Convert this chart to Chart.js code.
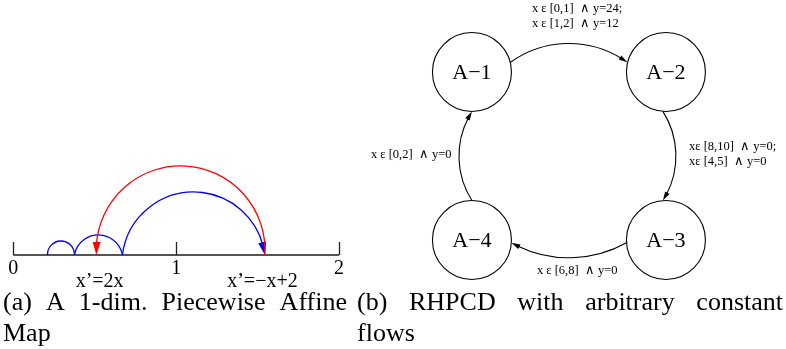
<!DOCTYPE html>
<html><head><meta charset="utf-8">
<script src="https://cdn.jsdelivr.net/npm/chart.js@4/dist/chart.umd.min.js"></script>
<style>html,body{margin:0;padding:0;background:#fff;}canvas{display:block;}</style>
</head><body>
<canvas id="c" width="786" height="349"></canvas>
<script>
// ---------- Panel (a): 1-dim. piecewise affine map ----------
const axisTicks   = [0, 1, 2];
const tickLabels  = ['0', '1', '2'];
const mapLabels   = ['x\u2019=2x', 'x\u2019=\u2212x+2'];
const mapLabelAt  = [0.53, 1.53];
const arcStart    = [0.21, 0.375, 0.67, 1.545];
const arcEnd      = [0.375, 0.67, 1.545, 0.51];
const arcHeight   = [0.086, 0.123, 0.387, 0.547];
const arcSeries   = ['orbit', 'orbit', 'orbit', 'return'];
const arcArrow    = [false, false, true, true];
const captionA    = ['(a) A 1-dim. Piecewise Affine', 'Map'];

// ---------- Panel (b): RHPCD state graph ----------
const nodeNames   = ['A\u22121', 'A\u22122', 'A\u22123', 'A\u22124'];
const nodeCol     = [0, 1, 1, 0];
const nodeRow     = [1, 1, 0, 0];
const edgeFrom    = [0, 1, 2, 3];
const edgeTo      = [1, 2, 3, 0];
const edgeLabels  = [
  ['x \u03b5 [0,1]  \u2227 y=24;', 'x \u03b5 [1,2]  \u2227 y=12'],
  ['x\u03b5 [8,10]  \u2227 y=0;', 'x\u03b5 [4,5]  \u2227 y=0'],
  ['x \u03b5 [6,8]  \u2227 y=0'],
  ['x \u03b5 [0,2]  \u2227 y=0']
];
const edgeLabelX  = [0.309, 1.119, 0.335, -0.521];
const edgeLabelY  = [1.375, 0.554, -0.185, 0.506];
const captionB    = ['(b) RHPCD with arbitrary constant', 'flows'];

// ---------- styles / geometry ----------
const seriesColor = { orbit: '#0000ff', return: '#ff0000' };
const edgeShape   = [ {theta: 14, bend: 19}, {theta: -4.4, bend: 13}, {theta: 4, bend: 15}, {theta: 0, bend: 13} ];
const NODE_R = 39.5;
const SERIF = '"Liberation Serif", "Times New Roman", serif';

function circleThrough(p1, p2, p3) {
  const ax=p1.x, ay=p1.y, bx=p2.x, by=p2.y, cx=p3.x, cy=p3.y;
  const d = 2*(ax*(by-cy)+bx*(cy-ay)+cx*(ay-by));
  const a2=ax*ax+ay*ay, b2=bx*bx+by*by, c2=cx*cx+cy*cy;
  const ux = (a2*(by-cy)+b2*(cy-ay)+c2*(ay-by))/d;
  const uy = (a2*(cx-bx)+b2*(ax-cx)+c2*(bx-ax))/d;
  return {x:ux, y:uy, r:Math.hypot(ax-ux, ay-uy)};
}
function drawArcArrow(ctx, s, m, e, color, width, arrow) {
  const c = circleThrough(s, m, e);
  const TAU = Math.PI*2, nm = a => ((a % TAU) + TAU) % TAU;
  const a1 = Math.atan2(s.y-c.y, s.x-c.x), a2 = Math.atan2(e.y-c.y, e.x-c.x), am = Math.atan2(m.y-c.y, m.x-c.x);
  const cw = nm(am-a1) < nm(a2-a1);
  let aEnd = a2;
  if (arrow) { const dA = arrow.len*0.7/c.r; aEnd = cw ? a2-dA : a2+dA; }
  ctx.save();
  ctx.beginPath(); ctx.strokeStyle = color; ctx.lineWidth = width;
  ctx.arc(c.x, c.y, c.r, a1, aEnd, !cw);
  ctx.stroke();
  if (arrow) {
    const ab = cw ? a2 - arrow.len/c.r : a2 + arrow.len/c.r;
    const bx0 = c.x + c.r*Math.cos(ab), by0 = c.y + c.r*Math.sin(ab);
    let tx = e.x - bx0, ty = e.y - by0; const tl = Math.hypot(tx, ty); tx/=tl; ty/=tl;
    const bx = e.x - tx*arrow.len, by = e.y - ty*arrow.len, nx = -ty, ny = tx;
    ctx.beginPath(); ctx.fillStyle = color;
    ctx.moveTo(e.x, e.y);
    ctx.lineTo(bx + nx*arrow.w/2, by + ny*arrow.w/2);
    ctx.lineTo(bx - nx*arrow.w/2, by - ny*arrow.w/2);
    ctx.closePath(); ctx.fill();
  }
  ctx.restore();
}
function justify(ctx, text, x0, x1, y) {
  const words = text.split(' ');
  const ws = words.map(w => ctx.measureText(w).width);
  const gap = (x1 - x0 - ws.reduce((a,b)=>a+b,0)) / (words.length-1);
  let x = x0;
  words.forEach((w,i) => { ctx.fillText(w, x, y); x += ws[i] + gap; });
}

const figurePlugin = {
  id: 'figure',
  afterDatasetsDraw(chart) {
    const ctx = chart.ctx, xa = chart.scales.xa, ya = chart.scales.ya, xb = chart.scales.xb, yb = chart.scales.yb;
    ctx.save();
    // tick marks
    ctx.strokeStyle = '#222'; ctx.lineWidth = 1.3;
    axisTicks.forEach(t => {
      const px = Math.round(xa.getPixelForValue(t)) + 0.5;
      ctx.beginPath(); ctx.moveTo(px, ya.getPixelForValue(0)); ctx.lineTo(px, ya.getPixelForValue(0.08)); ctx.stroke();
    });
    // arcs
    arcStart.forEach((a, i) => {
      const b = arcEnd[i], h = arcHeight[i];
      const s = {x: xa.getPixelForValue(a), y: ya.getPixelForValue(0)};
      const e = {x: xa.getPixelForValue(b), y: ya.getPixelForValue(0)};
      const m = {x: xa.getPixelForValue((a+b)/2), y: ya.getPixelForValue(h)};
      drawArcArrow(ctx, s, m, e, seriesColor[arcSeries[i]], 1.3, arcArrow[i] ? {len: 13, w: 8} : null);
    });
    // tick labels & map labels
    ctx.fillStyle = '#000'; ctx.textAlign = 'center'; ctx.textBaseline = 'middle';
    ctx.font = '20px ' + SERIF;
    axisTicks.forEach((t, i) => ctx.fillText(tickLabels[i], xa.getPixelForValue(t), ya.getPixelForValue(-0.085)));
    mapLabels.forEach((l, i) => ctx.fillText(l, xa.getPixelForValue(mapLabelAt[i]), ya.getPixelForValue(-0.165)));

    // graph nodes labels
    const nodes = chart.getDatasetMeta(1).data;
    ctx.font = '22px ' + SERIF;
    nodes.forEach((p, i) => ctx.fillText(nodeNames[i], p.x, p.y + 1));
    // edges
    edgeFrom.forEach((f, i) => {
      const P = nodes[f], Q = nodes[edgeTo[i]];
      let dx = Q.x - P.x, dy = Q.y - P.y; const dl = Math.hypot(dx, dy); dx/=dl; dy/=dl;
      const nx = dy, ny = -dx;
      const th = edgeShape[i].theta*Math.PI/180, cs = Math.cos(th), sn = Math.sin(th);
      const s = {x: P.x + NODE_R*(dx*cs + nx*sn), y: P.y + NODE_R*(dy*cs + ny*sn)};
      const e = {x: Q.x + NODE_R*(-dx*cs + nx*sn), y: Q.y + NODE_R*(-dy*cs + ny*sn)};
      const m = {x: (s.x+e.x)/2 + nx*edgeShape[i].bend, y: (s.y+e.y)/2 + ny*edgeShape[i].bend};
      drawArcArrow(ctx, s, m, e, '#000', 1.1, {len: 9, w: 5});
    });
    // edge labels
    ctx.textAlign = 'left'; ctx.font = '12.5px ' + SERIF;
    edgeLabels.forEach((lines, i) => {
      lines.forEach((l, j) => ctx.fillText(l, xb.getPixelForValue(edgeLabelX[i]), yb.getPixelForValue(edgeLabelY[i]) + j*15));
    });
    // captions
    ctx.textBaseline = 'alphabetic'; ctx.font = '26px ' + SERIF;
    justify(ctx, captionA[0], 3, 347, 310);
    ctx.fillText(captionA[1], 3, 341);
    justify(ctx, captionB[0], 357, 783, 310);
    ctx.fillText(captionB[1], 357, 341);
    ctx.restore();
  }
};

new Chart(document.getElementById('c').getContext('2d'), {
  type: 'scatter',
  data: { datasets: [
    { data: [{x: axisTicks[0], y: 0}, {x: axisTicks[axisTicks.length-1], y: 0}],
      xAxisID: 'xa', yAxisID: 'ya', showLine: true, borderColor: '#555', borderWidth: 2,
      pointRadius: 0, clip: false },
    { data: nodeNames.map((n, i) => ({x: nodeCol[i], y: nodeRow[i]})),
      xAxisID: 'xb', yAxisID: 'yb', showLine: false, pointRadius: NODE_R, pointHoverRadius: NODE_R,
      pointBackgroundColor: 'rgba(0,0,0,0)', pointBorderColor: '#000', pointBorderWidth: 1.1, clip: false }
  ]},
  options: {
    responsive: false, animation: false, devicePixelRatio: 1, events: [],
    layout: { padding: 0, autoPadding: false },
    plugins: { legend: { display: false }, tooltip: { enabled: false } },
    scales: {
      xa: { type: 'linear', position: 'bottom', display: false, min: -0.0817, max: 4.745 },
      ya: { type: 'linear', position: 'left',   display: false, min: -0.5772, max: 1.5659 },
      xb: { type: 'linear', position: 'bottom', display: false, min: -2.433, max: 1.619 },
      yb: { type: 'linear', position: 'left',   display: false, min: -0.6488, max: 1.4286 }
    }
  },
  plugins: [figurePlugin]
});
</script>
</body></html>
